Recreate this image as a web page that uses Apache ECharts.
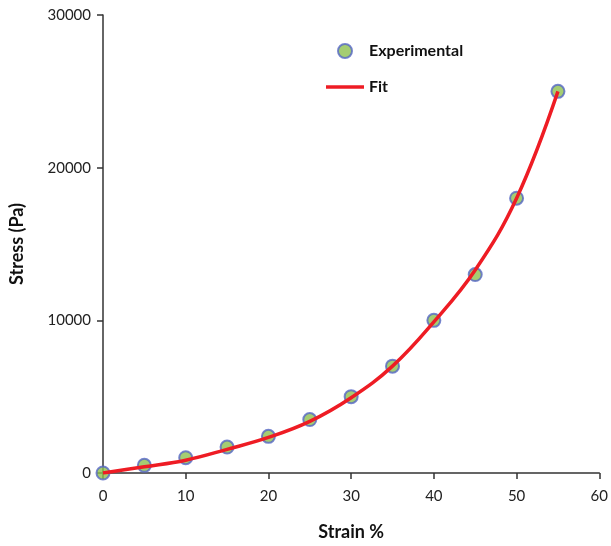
<!DOCTYPE html>
<html>
<head>
<meta charset="utf-8">
<script src="https://cdn.jsdelivr.net/npm/echarts@6/dist/echarts.min.js"></script>
<style>
  html, body { margin: 0; padding: 0; background: #fff; }
  #chart { width: 611px; height: 546px; }
</style>
</head>
<body>
<div id="chart"></div>
<script>
// strain (%) of each measurement
const strain = [0, 5, 10, 15, 20, 25, 30, 35, 40, 45, 50, 55]
// measured stress (Pa)
const stressExp = [0, 500, 1000, 1700, 2400, 3500, 5000, 7000, 10000, 13000, 18000, 25000]
// fitted curve
const stressFit = [0, 410, 840, 1550, 2330, 3380, 4930, 7000, 9900, 13300, 18000, 25000]
const xTicks = [0, 10, 20, 30, 40, 50, 60]
const yTicks = [0, 10000, 20000, 30000]

const font = 'Lato, "Open Sans", sans-serif'
let chart = echarts.init(document.getElementById('chart'))

const option = {
  animation: false,
  grid: { left: 103, right: 8, top: 15, bottom: 67 },
  legend: {
    orient: 'vertical',
    left: 321,
    top: 38,
    itemWidth: 38,
    itemHeight: 14,
    itemGap: 20,
    textStyle: { fontFamily: font, fontSize: 16, color: '#111', fontWeight: 'bold' },
    data: [
      { name: 'Experimental', icon: 'circle' },
      { name: 'Fit', icon: 'path://M0 0 H40 V3.5 H0 Z' }
    ]
  },
  xAxis: {
    type: 'value',
    min: xTicks[0],
    max: xTicks[xTicks.length - 1],
    interval: 10,
    name: 'Strain %',
    nameLocation: 'middle',
    nameGap: 50,
    nameTextStyle: { fontFamily: font, fontSize: 18, fontWeight: 'bold', color: '#111' },
    axisLine: { lineStyle: { color: '#333', width: 1.5 } },
    axisTick: { length: 6, lineStyle: { color: '#333', width: 1.5 } },
    axisLabel: { fontFamily: font, fontSize: 15, color: '#222', margin: 16 },
    splitLine: { show: false }
  },
  yAxis: {
    type: 'value',
    min: yTicks[0],
    max: yTicks[yTicks.length - 1],
    interval: 10000,
    name: 'Stress (Pa)',
    nameLocation: 'middle',
    nameGap: 77,
    nameTextStyle: { fontFamily: font, fontSize: 18, fontWeight: 'bold', color: '#111' },
    axisLine: { show: true, lineStyle: { color: '#333', width: 1.5 } },
    axisTick: { show: true, length: 6, lineStyle: { color: '#333', width: 1.5 } },
    axisLabel: { fontFamily: font, fontSize: 15, color: '#222', margin: 12, formatter: v => String(v) },
    splitLine: { show: false }
  },
  series: [
    {
      name: 'Experimental',
      type: 'scatter',
      symbol: 'circle',
      symbolSize: 13,
      itemStyle: { color: '#8fc04f', borderColor: '#5566c4', borderWidth: 2 },
      data: strain.map((x, i) => [x, stressExp[i]]),
      z: 2
    },
    {
      name: 'Fit',
      type: 'line',
      smooth: 0.4,
      showSymbol: false,
      symbol: 'none',
      itemStyle: { color: '#ee1c24' },
      lineStyle: { color: '#ee1c24', width: 3.5 },
      data: strain.map((x, i) => [x, stressFit[i]]),
      z: 3
    }
  ]
}
chart.setOption(option)
</script>
</body>
</html>
